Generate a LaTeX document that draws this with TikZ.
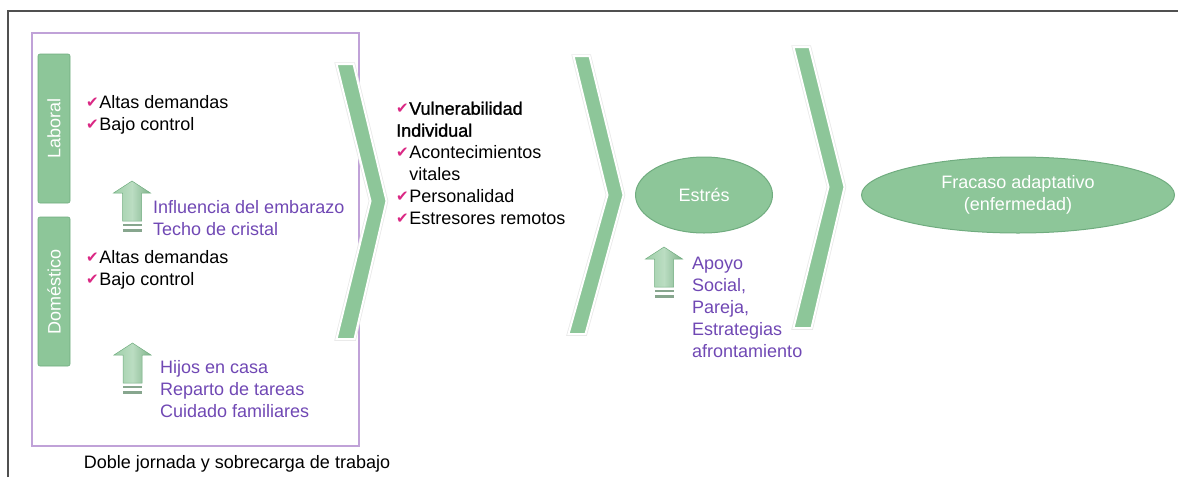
\documentclass[tikz,border=0pt]{standalone}
\usepackage{fontspec}
\setmainfont{Liberation Sans}
\newfontfamily\fuentesimb{DejaVu Sans}
\newfontfamily\fuentenegrita[FakeBold=1.2]{Liberation Sans}
\usepackage{tikz}
\usetikzlibrary{shapes.geometric,positioning}

\definecolor{verde}{RGB}{141,198,153}
\definecolor{verdeborde}{RGB}{112,172,127}
\definecolor{morado}{RGB}{192,162,216}
\definecolor{moradotexto}{RGB}{112,72,180}
\definecolor{rosa}{RGB}{218,40,132}
\definecolor{gris}{RGB}{80,80,80}

\newcommand{\chk}{\raisebox{1.5pt}{\fuentesimb\color{rosa}\fontsize{15}{15}\selectfont ✔}\hspace{0.5pt}}

\begin{document}
\begin{tikzpicture}[
    x=1pt, y=-1pt,
    texto/.style={font=\fontsize{18}{22}\selectfont, inner sep=0pt, align=left, anchor=north west},
    textomorado/.style={texto, text=moradotexto},
    barra/.style={rectangle, rounded corners=2pt, fill=verde, draw=verdeborde, line width=0.6pt,
        minimum width=149pt, minimum height=32pt, rotate=90, text=white, font=\fontsize{18}{22}\selectfont},
    elipse/.style={ellipse, fill=verde, draw=verdeborde, line width=1pt, text=white, inner sep=0pt,
        align=center, font=\fontsize{18}{22}\selectfont},
    chevron/.style={fill=verde, draw=white, line width=2pt, line join=miter,
        preaction={draw=black!9, line width=3.5pt}},
    flechaup/.pic={
        \path[draw=verdeborde, line width=0.5pt, left color=verde!85, right color=verde!90!black, middle color=verde!60!white]
            (0,0) -- (18.5,12) -- (9.5,12) -- (9.5,40) -- (-9.5,40) -- (-9.5,12) -- (-18.5,12) -- cycle;
        \path[fill=verde!55!gray] (-9.5,42.5) rectangle (9.5,45);
        \path[fill=verde!55!gray] (-9.5,47.5) rectangle (9.5,50.5);
    }
]
    \useasboundingbox (0,0) rectangle (1178,477);

    % Marco
    \draw[gris, line width=2pt] (8,477) -- (8,11) -- (1178,11);
    \node[draw=morado, line width=2pt, minimum width=327pt, minimum height=413pt, inner sep=0pt] (marco) at (195.5,239.5) {};

    % Barras
    \node[barra] (laboral) at (54,128.5) {Laboral};
    \node[barra] (domestico) at (54,291.5) {Doméstico};

    % Listas
    \node[texto] (labitems) at (86,95.5) {\chk Altas demandas\\\chk Bajo control};
    \node[texto] (domitems) at (86,250.5) {\chk Altas demandas\\\chk Bajo control};
    \node[textomorado] (influencia) at (153,200.5) {Influencia del embarazo\\Techo de cristal};
    \node[textomorado] (hijos) at (160,360.5) {Hijos en casa\\Reparto de tareas\\Cuidado familiares};
    \node[texto, anchor=base] (doble) at (237,468) {Doble jornada y sobrecarga de trabajo};

    % Flechas
    \pic at (132,181) {flechaup};
    \pic at (132.5,343) {flechaup};
    \pic at (664,247) {flechaup};

    % Chevrones
    \draw[chevron] (336.5,64) -- (353.5,64) -- (386.5,201) -- (354.5,339) -- (336.5,339) -- (370.5,201) -- cycle;
    \draw[chevron] (573.5,56) -- (589.5,56) -- (623.5,195) -- (585.5,334) -- (568.5,334) -- (607.5,195) -- cycle;
    \draw[chevron] (793.5,47) -- (809.5,47) -- (844.5,187) -- (811.5,328) -- (793.5,328) -- (828.5,187) -- cycle;

    % Centro
    \node[texto] (vulnerab) at (396,101.5) {\chk{\fuentenegrita Vulnerabilidad}\\{\fuentenegrita Individual}\\
        \chk Acontecimientos\\\phantom{\chk}vitales\\\chk Personalidad\\\chk Estresores remotos};

    % Elipses
    \node[elipse, minimum width=137pt, minimum height=76pt] (estres) at (704,195) {Estrés};
    \node[textomorado] (apoyo) at (692,256.5) {Apoyo\\Social,\\Pareja,\\Estrategias\\afrontamiento};
    \node[elipse, minimum width=313pt, minimum height=76pt] (fracaso) at (1018,195) {Fracaso adaptativo\\(enfermedad)};
\end{tikzpicture}
\end{document}
